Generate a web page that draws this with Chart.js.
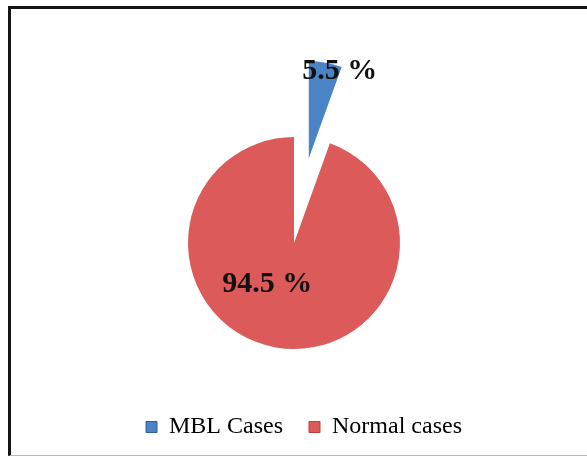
<!DOCTYPE html>
<html>
<head>
<meta charset="utf-8">
<script src="https://cdn.jsdelivr.net/npm/chart.js@4/dist/chart.umd.min.js"></script>
<style>
  html, body { margin: 0; padding: 0; background: #fff; }
  #wrap { position: relative; width: 587px; height: 459px; overflow: hidden; }
  #frame {
    position: absolute; left: 8px; top: 6px; width: 600px; height: 450px;
    border-left: 3px solid #151515; border-top: 3px solid #151515;
    border-bottom: 1px solid #b8b8b8; box-sizing: border-box;
  }
  canvas { position: absolute; left: 0; top: 0; }
</style>
</head>
<body>
<div id="wrap">
  <div id="frame"></div>
  <canvas id="c" width="587" height="459"></canvas>
</div>
<script>
// Share of cases
const categories = ['MBL Cases', 'Normal cases'];
const percentages = [5.5, 94.5];
const percentLabels = ['5.5 %', '94.5 %'];

const sliceColors = ['#4A83C6', '#DC5A59'];
const sliceEdges = ['#2F5E96', '#B84442'];

// Exploded slice: distance pulled out from the centre and its own radius
const explode = [86, 0];
const explodedRadius = [97, null];

// Value labels: radial fraction from the centre plus a small sideways nudge
const labelPlacement = [
  { frac: 0.88, dx: 15, dy: 5 },
  { frac: 0.42, dx: -19, dy: -3 }
];

function midAngle(arc) {
  const p = arc.getProps(['startAngle', 'endAngle'], true);
  return (p.startAngle + p.endAngle) / 2;
}

// Pull slices out along their mid-angle
const explodeSlices = {
  id: 'explodeSlices',
  afterDatasetUpdate(chart, args) {
    if (args.index !== 0) return;
    chart.getDatasetMeta(0).data.forEach((arc, i) => {
      if (arc._exploded) return;
      const draw = arc.draw;
      arc.draw = function (ctx) {
        const mid = midAngle(this);
        const r = this.outerRadius;
        ctx.save();
        ctx.translate(Math.cos(mid) * explode[i], Math.sin(mid) * explode[i]);
        if (explodedRadius[i]) this.outerRadius = explodedRadius[i];
        draw.call(this, ctx);
        this.outerRadius = r;
        ctx.restore();
      };
      arc._exploded = true;
    });
  }
};

const valueLabels = {
  id: 'valueLabels',
  afterDatasetsDraw(chart) {
    const { ctx } = chart;
    const meta = chart.getDatasetMeta(0);
    ctx.save();
    ctx.font = 'bold 30px "Liberation Serif", "Times New Roman", serif';
    ctx.fillStyle = '#111';
    ctx.textAlign = 'center';
    ctx.textBaseline = 'middle';
    meta.data.forEach((arc, i) => {
      const p = arc.getProps(['x', 'y', 'outerRadius'], true);
      const mid = midAngle(arc);
      const d = explode[i] + p.outerRadius * labelPlacement[i].frac;
      const x = p.x + Math.cos(mid) * d + labelPlacement[i].dx;
      const y = p.y + Math.sin(mid) * d + labelPlacement[i].dy;
      ctx.fillText(percentLabels[i], x, y);
    });
    ctx.restore();
  }
};

const legendShift = {
  id: 'legendShift',
  afterLayout(chart) {
    chart.legend.left += 10;
    chart.legend.right += 10;
  }
};

new Chart(document.getElementById('c'), {
  type: 'pie',
  data: {
    labels: categories,
    datasets: [{
      data: percentages,
      backgroundColor: sliceColors,
      borderColor: sliceEdges,
      borderWidth: 0
    }]
  },
  options: {
    responsive: false,
    animation: false,
    radius: 106,
    clip: false,
    layout: { padding: { left: 1, right: 0, top: 97, bottom: 10 } },
    plugins: {
      tooltip: { enabled: false },
      legend: {
        position: 'bottom',
        labels: {
          boxWidth: 11,
          boxHeight: 11,
          padding: 26,
          color: '#111',
          font: { family: '"Liberation Serif", "Times New Roman", serif', size: 24 },
          generateLabels(chart) {
            return chart.data.labels.map((t, i) => ({
              text: t,
              fillStyle: sliceColors[i],
              strokeStyle: sliceEdges[i],
              lineWidth: 1,
              index: i
            }));
          }
        }
      }
    }
  },
  plugins: [explodeSlices, valueLabels, legendShift]
});
</script>
</body>
</html>
